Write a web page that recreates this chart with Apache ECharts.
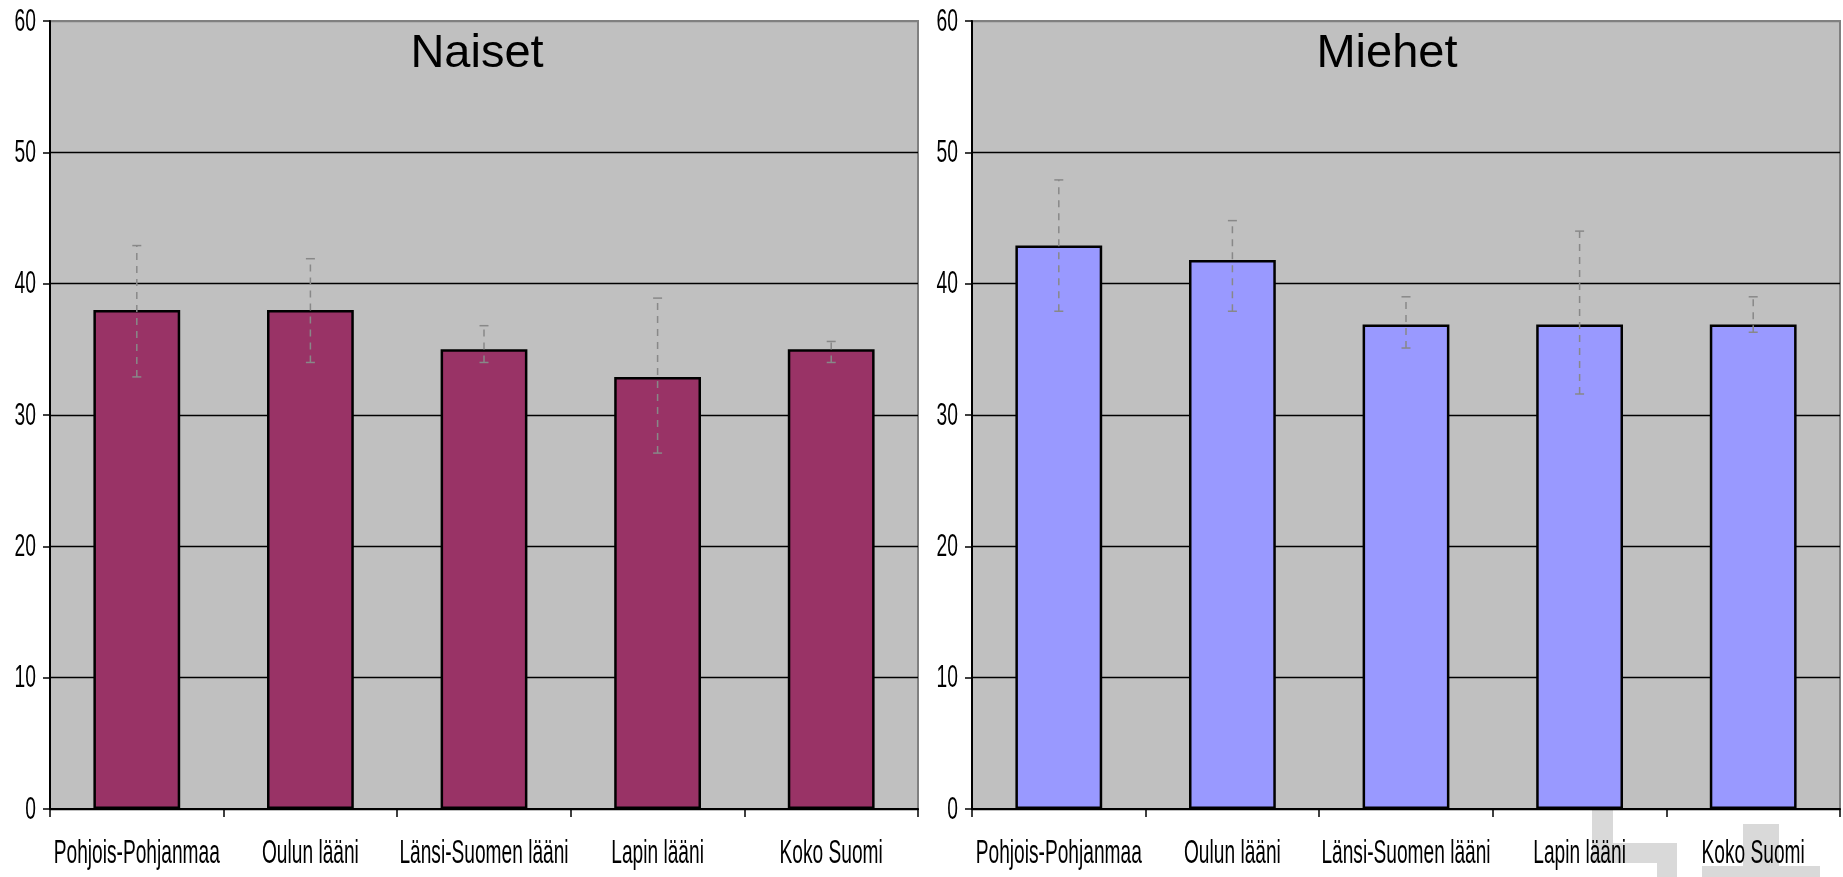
<!DOCTYPE html>
<html>
<head>
<meta charset="utf-8">
<style>
html,body{margin:0;padding:0;background:#fff;}
#c{width:1843px;height:877px;}
</style>
<script src="https://cdn.jsdelivr.net/npm/echarts@6/dist/echarts.min.js"></script>
</head>
<body>
<div id="c"></div>
<script>
const categories = ['Pohjois-Pohjanmaa', 'Oulun lääni', 'Länsi-Suomen lääni', 'Lapin lääni', 'Koko Suomi'];
const yTicks = [0, 10, 20, 30, 40, 50, 60];

const naisetValues = [38, 38, 35, 32.9, 35];
const naisetLow    = [32.9, 34, 34, 27.1, 34];
const naisetHigh   = [42.9, 41.9, 36.8, 38.9, 35.6];

const miehetValues = [42.9, 41.8, 36.9, 36.9, 36.9];
const miehetLow    = [37.9, 37.9, 35.1, 31.6, 36.3];
const miehetHigh   = [47.9, 44.8, 39, 44, 39];

const titles = ['Naiset', 'Miehet'];

const fontFam = "'Liberation Sans', Arial, sans-serif";

const chart = echarts.init(document.getElementById('c'), null, {renderer: 'canvas'});

function xAxisCfg(gi) {
  return {
    type: 'category', gridIndex: gi, data: categories,
    boundaryGap: true,
    axisLine: {show: true, lineStyle: {color: '#000', width: 2}},
    axisTick: {show: true, alignWithLabel: false, length: 8, lineStyle: {color: '#000', width: 1.5}},
    axisLabel: {show: false},
    splitLine: {show: false}
  };
}
function yAxisCfg(gi) {
  return {
    type: 'value', gridIndex: gi, min: yTicks[0], max: yTicks[yTicks.length - 1], interval: 10,
    axisLine: {show: true, lineStyle: {color: '#000', width: 2}},
    axisTick: {show: true, length: 7, lineStyle: {color: '#000', width: 1.5}},
    axisLabel: {show: false},
    splitLine: {show: true, lineStyle: {color: ['#000','#000','#000','#000','#000','#000','#808080'], width: 1.3}}
  };
}

function errorRender(params, api) {
  const x = api.value(0);
  const pL = api.coord([x, api.value(1)]);
  const pH = api.coord([x, api.value(2)]);
  const cap = 4.5;
  const st = {stroke: '#888888', lineWidth: 1.5};
  return {
    type: 'group',
    children: [
      {type: 'line', shape: {x1: pL[0], y1: pL[1], x2: pH[0], y2: pH[1]},
       style: Object.assign({lineDash: [7, 6]}, st)},
      {type: 'line', shape: {x1: pL[0] - cap, y1: pL[1], x2: pL[0] + cap, y2: pL[1]}, style: st},
      {type: 'line', shape: {x1: pH[0] - cap, y1: pH[1], x2: pH[0] + cap, y2: pH[1]}, style: st}
    ]
  };
}

function errData(lo, hi) { return lo.map((v, i) => [i, v, hi[i]]); }

const baseGraphic = [
  {id: 'w1', type: 'rect', z: -10, shape: {x: 1592, y: 810, width: 21, height: 34}, style: {fill: '#D9D9D9'}},
  {id: 'w2', type: 'rect', z: -10, shape: {x: 1592, y: 843, width: 85, height: 20}, style: {fill: '#D9D9D9'}},
  {id: 'w3', type: 'rect', z: -10, shape: {x: 1657, y: 862, width: 20, height: 15}, style: {fill: '#D9D9D9'}},
  {id: 'w4', type: 'rect', z: -10, shape: {x: 1743, y: 824, width: 36, height: 43}, style: {fill: '#D9D9D9'}},
  {id: 'w5', type: 'rect', z: -10, shape: {x: 1702, y: 866, width: 118, height: 11}, style: {fill: '#D9D9D9'}},
  {id: 't0', type: 'text', z: 100, style: {text: titles[0], x: 477, y: 54, textAlign: 'center', textVerticalAlign: 'middle', font: "47px " + fontFam, fill: '#000'}},
  {id: 't1', type: 'text', z: 100, style: {text: titles[1], x: 1387, y: 54, textAlign: 'center', textVerticalAlign: 'middle', font: "47px " + fontFam, fill: '#000'}}
];

const option = {
  animation: false,
  backgroundColor: '#ffffff',
  grid: [
    {left: 50, top: 21, width: 868, height: 788, show: true, backgroundColor: '#C0C0C0', borderColor: '#808080', borderWidth: 2},
    {left: 972, top: 21, width: 868, height: 788, show: true, backgroundColor: '#C0C0C0', borderColor: '#808080', borderWidth: 2}
  ],
  xAxis: [xAxisCfg(0), xAxisCfg(1)],
  yAxis: [yAxisCfg(0), yAxisCfg(1)],
  graphic: baseGraphic,
  series: [
    {type: 'bar', name: titles[0], xAxisIndex: 0, yAxisIndex: 0, data: naisetValues, barWidth: '50%',
     itemStyle: {color: '#993366', borderColor: '#000', borderWidth: 2.5}},
    {type: 'bar', name: titles[1], xAxisIndex: 1, yAxisIndex: 1, data: miehetValues, barWidth: '50%',
     itemStyle: {color: '#9999FF', borderColor: '#000', borderWidth: 2.5}},
    {type: 'custom', xAxisIndex: 0, yAxisIndex: 0, data: errData(naisetLow, naisetHigh),
     encode: {x: 0, y: [1, 2]}, renderItem: errorRender, z: 10},
    {type: 'custom', xAxisIndex: 1, yAxisIndex: 1, data: errData(miehetLow, miehetHigh),
     encode: {x: 0, y: [1, 2]}, renderItem: errorRender, z: 10}
  ]
};
chart.setOption(option);

// Condensed axis labels placed through the library's own axis scales
const labelGraphic = [];
[0, 1].forEach(function (gi) {
  categories.forEach(function (c, i) {
    const p = chart.convertToPixel({gridIndex: gi}, [c, 0]);
    labelGraphic.push({
      id: 'xl' + gi + '_' + i, type: 'text', z: 50,
      x: p[0], y: p[1] + 45, scaleX: 0.58,
      style: {text: c, x: 0, y: 0, textAlign: 'center', textVerticalAlign: 'middle', font: "33px " + fontFam, fill: '#000'}
    });
  });
  yTicks.forEach(function (v, i) {
    const axisX = chart.convertToPixel({gridIndex: gi}, [categories[0], v]);
    labelGraphic.push({
      id: 'yl' + gi + '_' + i, type: 'text', z: 50,
      x: (gi === 0 ? 50 : 972) - 14, y: axisX[1] + 1, scaleX: 0.62,
      style: {text: String(v), x: 0, y: 0, textAlign: 'right', textVerticalAlign: 'middle', font: "31px " + fontFam, fill: '#000'}
    });
  });
});
chart.setOption({graphic: baseGraphic.concat(labelGraphic)});
</script>
</body>
</html>
